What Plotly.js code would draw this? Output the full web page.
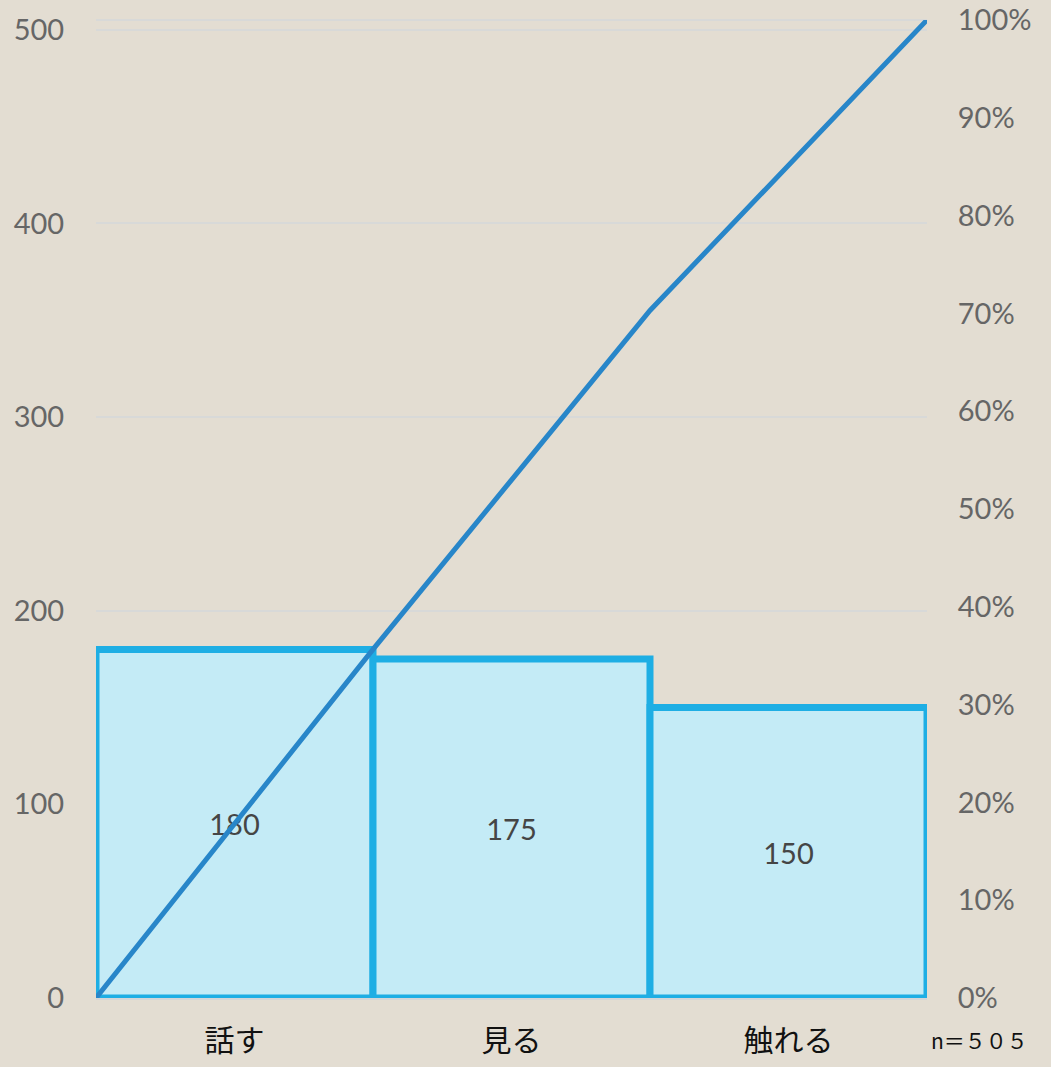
<!DOCTYPE html>
<html>
<head>
<meta charset="utf-8">
<script src="https://cdn.plot.ly/plotly-3.0.1.min.js"></script>
<style>
  html, body { margin: 0; padding: 0; background: #e3ddd2; }
  #chart { width: 1051px; height: 1067px; }
</style>
</head>
<body>
<div id="chart"></div>
<script>
// Pareto chart: counts per sense, with cumulative share line
const categories = ['話す', '見る', '触れる'];
const counts = [180, 175, 150];
const countTicks = [0, 100, 200, 300, 400, 500];
const pctTicks = [0, 0.1, 0.2, 0.3, 0.4, 0.5, 0.6, 0.7, 0.8, 0.9, 1.0];
const sampleNote = 'n＝５０５';

const total = counts.reduce((a, b) => a + b, 0);
// cumulative share at each bar boundary (starting from 0 at the left edge)
const cumX = [-0.5];
const cumY = [0];
let run = 0;
counts.forEach((c, i) => {
  run += c;
  cumX.push(i + 0.5);
  cumY.push(run / total);
});

const tickFont = { family: 'Lato, "Noto Sans", sans-serif', size: 29, color: '#666666' };

const bars = {
  type: 'bar',
  x: categories.map((_, i) => i),
  y: counts,
  width: 1,
  text: counts.map(String),
  textposition: 'inside',
  insidetextanchor: 'middle',
  textfont: { family: 'Lato, "Noto Sans", sans-serif', size: 29, color: '#454545' },
  marker: { color: '#c4ebf6', line: { color: '#1eaee4', width: 7 } },
  hoverinfo: 'skip',
  cliponaxis: false
};

const cumLine = {
  type: 'scatter',
  mode: 'lines',
  x: cumX,
  y: cumY,
  yaxis: 'y2',
  line: { color: '#2886c9', width: 5 },
  hoverinfo: 'skip',
  cliponaxis: false
};

const layout = {
  width: 1051,
  height: 1067,
  paper_bgcolor: '#e3ddd2',
  plot_bgcolor: '#e3ddd2',
  margin: { l: 96, r: 124, t: 20, b: 69 },
  showlegend: false,
  bargap: 0,
  xaxis: {
    range: [-0.5, 2.5],
    tickvals: categories.map((_, i) => i),
    ticktext: categories,
    tickfont: { family: '"Noto Sans CJK JP", sans-serif', size: 30, color: '#111111' },
    ticks: 'outside',
    ticklen: 15,
    tickcolor: 'rgba(0,0,0,0)',
    showgrid: false,
    zeroline: false,
    showline: true,
    linecolor: '#d3d6d8',
    linewidth: 2
  },
  yaxis: {
    range: [0, 505],
    tickvals: countTicks,
    tickfont: tickFont,
    ticks: 'outside',
    ticklen: 25,
    tickcolor: 'rgba(0,0,0,0)',
    showgrid: true,
    gridcolor: '#d8d9d8',
    gridwidth: 2,
    zeroline: false,
    showline: false
  },
  yaxis2: {
    overlaying: 'y',
    side: 'right',
    range: [0, 1],
    tickvals: pctTicks,
    tickformat: '.0%',
    tickfont: tickFont,
    ticks: 'outside',
    ticklen: 24,
    tickcolor: 'rgba(0,0,0,0)',
    showgrid: false,
    zeroline: false,
    showline: false
  },
  shapes: [{
    type: 'line', xref: 'paper', yref: 'paper',
    x0: 0, x1: 1, y0: 1, y1: 1,
    line: { color: '#d8d9d8', width: 2 },
    layer: 'below'
  }],
  annotations: [{
    xref: 'paper', yref: 'paper',
    x: 1.003, y: 0, xanchor: 'left', yanchor: 'top', yshift: -25,
    text: sampleNote, showarrow: false,
    font: { family: '"Noto Sans CJK JP", sans-serif', size: 21, color: '#111111' }
  }]
};

Plotly.newPlot('chart', [bars, cumLine], layout, { displayModeBar: false, staticPlot: true });
</script>
</body>
</html>
